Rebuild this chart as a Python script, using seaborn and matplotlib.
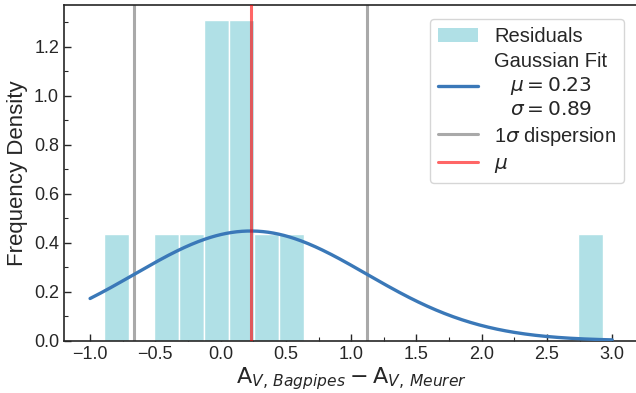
import numpy as np
import seaborn as sns
import matplotlib.pyplot as plt
from matplotlib.ticker import AutoMinorLocator
from matplotlib.patches import Patch
from matplotlib.lines import Line2D

# residuals A_V(Bagpipes) - A_V(Meurer)
residuals = [-0.89, -0.45, -0.25, -0.10, -0.05, 0.00,
             0.10, 0.15, 0.20, 0.30, 0.50, 2.93]
n_bins = 20
mu = 0.23
sigma = 0.89
fit_range = [-1.0, 3.0]

sns.set_style("ticks")
plt.rcParams['font.family'] = ['Liberation Sans', 'DejaVu Sans']
plt.rcParams['mathtext.fontset'] = 'dejavusans'
plt.rcParams['xtick.direction'] = 'in'
plt.rcParams['ytick.direction'] = 'in'

fig = plt.figure(figsize=(6.36, 3.93), dpi=100)
ax = fig.add_axes([0.1006, 0.133, 0.903, 0.854])

sns.histplot(x=residuals, bins=n_bins, stat='density', color='powderblue',
             edgecolor='white', linewidth=1, alpha=1, ax=ax, zorder=1)

ax.axvline(mu - sigma, color='darkgray', lw=2.2, zorder=2)
ax.axvline(mu + sigma, color='darkgray', lw=2.2, zorder=2)
ax.axvline(mu, color='red', alpha=0.6, lw=2.2, zorder=4)

xs = np.linspace(fit_range[0], fit_range[1], 300)
pdf = np.exp(-0.5 * ((xs - mu) / sigma) ** 2) / (sigma * np.sqrt(2 * np.pi))
sns.lineplot(x=xs, y=pdf, color='#3a78b8', lw=2.4, ax=ax, zorder=3)

ax.set_xlim(-1.2, 3.2)
ax.set_ylim(0, 1.371)
ax.xaxis.set_minor_locator(AutoMinorLocator(2))
ax.yaxis.set_minor_locator(AutoMinorLocator(2))
ax.tick_params(which='major', length=5, width=1, labelsize=13)
ax.tick_params(which='minor', length=3, width=0.8)
for s in ax.spines.values():
    s.set_linewidth(1.2)

ax.set_xlabel(r'$\mathrm{A}_{V,\,Bagpipes} - \mathrm{A}_{V,\,Meurer}$', fontsize=16, labelpad=2)
ax.set_ylabel('Frequency Density', fontsize=16)

handles = [
    Patch(facecolor='powderblue', edgecolor='none'),
    Line2D([], [], color='#3a78b8', lw=2.4),
    Line2D([], [], color='darkgray', lw=2.2),
    Line2D([], [], color='red', alpha=0.6, lw=2.2),
]
labels = ['Residuals',
          'Gaussian Fit\n$\\mu = 0.23$\n$\\sigma = 0.89$',
          r'1$\sigma$ dispersion',
          r'$\mu$']
leg = ax.legend(handles, labels, loc='upper right', fontsize=14.5,
                bbox_to_anchor=(0.993, 0.988), handlelength=2.0,
                labelspacing=0.3, borderpad=0.4)
for t in leg.get_texts():
    t.set_multialignment('center')

fig.savefig('out.png', dpi=100)
